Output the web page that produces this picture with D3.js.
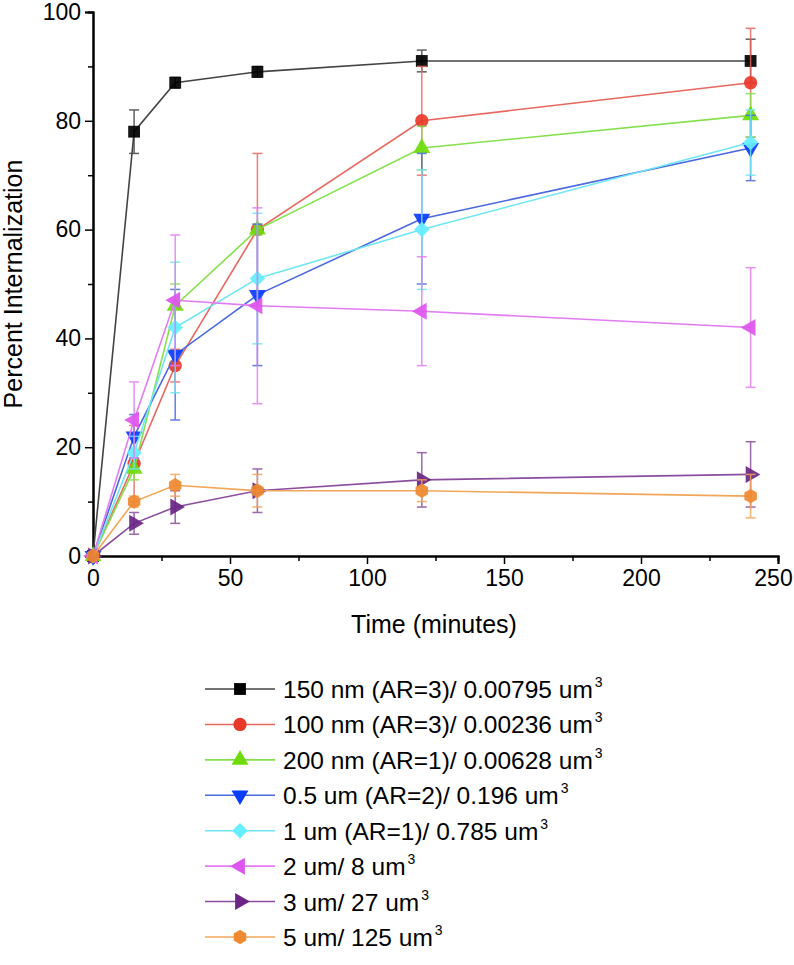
<!DOCTYPE html>
<html><head><meta charset="utf-8">
<script src="https://cdn.jsdelivr.net/npm/d3@7"></script>
<style>
html,body{margin:0;padding:0;background:#fff;}
svg{display:block;font-family:"Liberation Sans",Arial,Helvetica,sans-serif;}
</style></head>
<body>
<svg id="chart" width="794" height="965"></svg>
<script>
// ---- data ----
const times = [0, 15, 30, 60, 120, 240];
const seriesNames = ["150 nm (AR=3)/ 0.00795 um", "100 nm (AR=3)/ 0.00236 um", "200 nm (AR=1)/ 0.00628 um",
  "0.5 um (AR=2)/ 0.196 um", "1 um (AR=1)/ 0.785 um", "2 um/ 8 um", "3 um/ 27 um", "5 um/ 125 um"];
const v150nm = [0, 78, 87, 89, 91, 91];
const e150nm = [0, 4, 1, 1, 2, 4];
const v100nm = [0, 17, 35, 60, 80, 87];
const e100nm = [0, 7, 3, 14, 10, 10];
const v200nm = [0, 16, 46, 60, 75, 81];
const e200nm = [0, 2, 4, 1, 4, 4];
const v05um = [0, 22, 37, 48, 62, 75];
const e05um = [0, 4, 12, 13, 12, 6];
const v1um = [0, 19, 42, 51, 60, 76];
const e1um = [0, 3, 12, 12, 11, 6];
const v2um = [0, 25, 47, 46, 45, 42];
const e2um = [0, 7, 12, 18, 10, 11];
const v3um = [0, 6, 9, 12, 14, 15];
const e3um = [0, 2, 3, 4, 5, 6];
const v5um = [0, 10, 13, 12, 12, 11];
const e5um = [0, 1, 2, 3, 2, 4];
const xTicks = [0, 50, 100, 150, 200, 250];
const yTicks = [0, 20, 40, 60, 80, 100];
const xLabel = "Time (minutes)";
const yLabel = "Percent Internalization";

// ---- styles ----
const lineColors = ["#444444", "#e8675f", "#86e04e", "#4a68e0", "#6fe6f2", "#e27cf2", "#8b4e9e", "#f2a65a"];
const markColors = ["#000000", "#e8392b", "#6fdc0a", "#0a3cff", "#66eeff", "#dd55ee", "#6a2585", "#ef8a30"];

const hexagon = {
  draw(ctx, size) {
    const r = Math.sqrt(size / (1.5 * Math.sqrt(3)));
    for (let i = 0; i < 6; i++) {
      const a = Math.PI / 6 + i * Math.PI / 3;
      const px = r * Math.cos(a), py = r * Math.sin(a);
      if (i === 0) ctx.moveTo(px, py); else ctx.lineTo(px, py);
    }
    ctx.closePath();
  }
};
const markers = [
  {type: d3.symbolSquare, size: 140, rot: 0},
  {type: d3.symbolCircle, size: 140, rot: 0},
  {type: d3.symbolTriangle, size: 125, rot: 0},
  {type: d3.symbolTriangle, size: 125, rot: 180},
  {type: d3.symbolSquare, size: 120, rot: 45},
  {type: d3.symbolTriangle, size: 125, rot: -90},
  {type: d3.symbolTriangle, size: 125, rot: 90},
  {type: hexagon, size: 135, rot: 0}
];

const values = [v150nm, v100nm, v200nm, v05um, v1um, v2um, v3um, v5um];
const errors = [e150nm, e100nm, e200nm, e05um, e1um, e2um, e3um, e5um];
const series = seriesNames.map((name, i) => ({
  name, i,
  pts: times.map((t, j) => ({t, v: values[i][j], e: errors[i][j]}))
}));

const svg = d3.select("#chart");
const x = d3.scaleLinear().domain([0, 250]).range([93, 778]);
const y = d3.scaleLinear().domain([0, 100]).range([556, 12]);

// axes
const xAxis = d3.axisBottom(x).tickValues(xTicks).tickSize(8).tickPadding(6).tickFormat(d3.format("d"));
const yAxis = d3.axisLeft(y).tickValues(yTicks).tickSize(8).tickPadding(4).tickFormat(d3.format("d"));
const xMinor = d3.axisBottom(x).tickValues(d3.range(25, 250, 50)).tickSize(5).tickFormat("");
const yMinor = d3.axisLeft(y).tickValues(d3.range(10, 100, 20)).tickSize(5).tickFormat("");

function styleAxis(g) {
  g.select(".domain").attr("stroke", "#000").attr("stroke-width", 2);
  g.selectAll(".tick line").attr("stroke", "#000").attr("stroke-width", 1.5);
  g.selectAll(".tick text").attr("fill", "#000").style("font-size", "23px");
}
svg.append("g").attr("transform", `translate(0,${y(0)})`).call(xMinor).call(styleAxis);
svg.append("g").attr("transform", `translate(0,${x(0)})`.replace(/.*/, `translate(${x(0)},0)`)).call(yMinor).call(styleAxis);
const gx = svg.append("g").attr("transform", `translate(0,${y(0)})`).call(xAxis).call(styleAxis);
gx.selectAll(".tick text").filter(d => d === 250).attr("dx", -5);
svg.append("g").attr("transform", `translate(${x(0)},0)`).call(yAxis).call(styleAxis);

svg.append("text").attr("x", 434).attr("y", 633).attr("text-anchor", "middle")
  .style("font-size", "25px").attr("fill", "#000").text(xLabel);
svg.append("text").attr("transform", `translate(22,${(y(0) + y(100)) / 2}) rotate(-90)`)
  .attr("text-anchor", "middle").style("font-size", "25px").attr("fill", "#000").text(yLabel);

// plot
const line = d3.line().x(d => x(d.t)).y(d => y(d.v));
const plot = svg.append("g");
series.forEach(s => {
  const g = plot.append("g");
  g.append("path").datum(s.pts).attr("d", line).attr("fill", "none")
    .attr("stroke", lineColors[s.i]).attr("stroke-width", 1.6);
  const eb = g.selectAll(".eb").data(s.pts.filter(p => p.e > 0)).enter().append("g")
    .attr("stroke", lineColors[s.i]).attr("stroke-width", 1.5).attr("opacity", 0.85);
  eb.append("line").attr("x1", d => x(d.t)).attr("x2", d => x(d.t))
    .attr("y1", d => y(d.v - d.e)).attr("y2", d => y(d.v + d.e));
  eb.append("line").attr("x1", d => x(d.t) - 5).attr("x2", d => x(d.t) + 5)
    .attr("y1", d => y(d.v + d.e)).attr("y2", d => y(d.v + d.e));
  eb.append("line").attr("x1", d => x(d.t) - 5).attr("x2", d => x(d.t) + 5)
    .attr("y1", d => y(d.v - d.e)).attr("y2", d => y(d.v - d.e));
  const m = markers[s.i];
  g.selectAll(".mk").data(s.pts).enter().append("path")
    .attr("d", d3.symbol().type(m.type).size(m.size))
    .attr("transform", d => `translate(${x(d.t)},${y(d.v)}) rotate(${m.rot})`)
    .attr("fill", markColors[s.i]).attr("opacity", 0.92);
});

// legend
const legend = svg.append("g");
const rowY = d3.scaleLinear().domain([0, 7]).range([689, 937]);
series.forEach(s => {
  const cy = rowY(s.i);
  const g = legend.append("g");
  g.append("line").attr("x1", 205).attr("x2", 275).attr("y1", cy).attr("y2", cy)
    .attr("stroke", lineColors[s.i]).attr("stroke-width", 1.6);
  const m = markers[s.i];
  g.append("path").attr("d", d3.symbol().type(m.type).size(m.size))
    .attr("transform", `translate(240,${cy}) rotate(${m.rot})`).attr("fill", markColors[s.i]);
  const t = g.append("text").attr("x", 283).attr("y", cy + 9).style("font-size", "24.5px").attr("fill", "#000");
  t.append("tspan").text(s.name);
  t.append("tspan").attr("dy", -11).attr("dx", 2).style("font-size", "14px").text("3");
});
</script>
</body></html>
